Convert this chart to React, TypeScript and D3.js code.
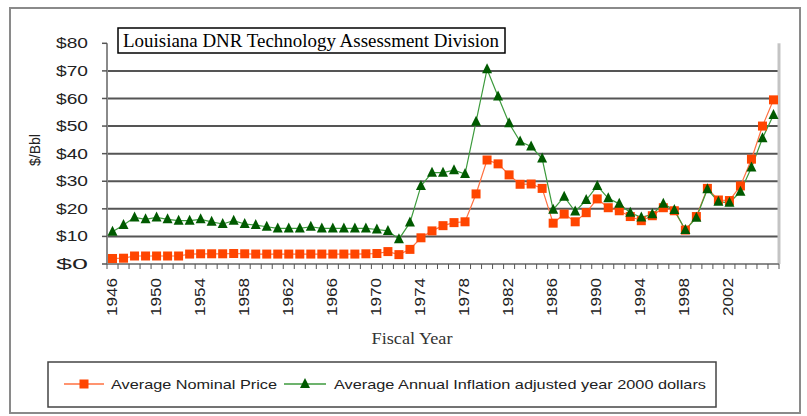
import React from "react";
import * as d3 from "d3";

// fiscal years on the category axis
const years: number[] = d3.range(1946, 2007);
const labelYears = [1946, 1950, 1954, 1958, 1962, 1966, 1970, 1974, 1978, 1982, 1986, 1990, 1994, 1998, 2002];
const yTicks = [0, 10, 20, 30, 40, 50, 60, 70, 80];

// $/Bbl
const nominal = [
  2.0, 2.1, 2.9, 2.9, 2.9, 2.9, 2.9, 3.6, 3.7, 3.7,
  3.7, 3.8, 3.7, 3.6, 3.6, 3.6, 3.6, 3.6, 3.6, 3.6,
  3.6, 3.6, 3.6, 3.7, 3.8, 4.5, 3.4, 5.3, 9.5, 12.0,
  13.9, 15.0, 15.3, 25.4, 37.7, 36.3, 32.3, 28.9, 29.0, 27.4,
  14.8, 18.1, 15.3, 18.6, 23.6, 20.4, 19.3, 17.2, 15.7, 17.5,
  20.4, 19.3, 12.3, 17.2, 27.4, 23.2, 23.0, 28.3, 38.0, 50.0,
  59.5,
];
const adjusted = [
  11.7, 14.1, 16.9, 16.2, 16.9, 16.2, 15.7, 15.7, 16.2, 15.3,
  14.5, 15.7, 14.5, 14.1, 13.5, 12.9, 12.9, 12.9, 13.5, 12.9,
  12.9, 12.9, 12.9, 12.9, 12.5, 12.0, 9.0, 15.0, 28.3, 33.1,
  33.1, 34.0, 32.6, 51.6, 70.6, 60.7, 51.0, 44.4, 42.6, 38.2,
  19.7, 24.4, 19.0, 23.2, 28.3, 23.8, 21.8, 18.6, 16.9, 18.0,
  21.8, 19.6, 12.3, 16.8, 27.1, 22.6, 22.2, 26.2, 35.0, 45.6,
  54.0,
];

const RED = "#ff4500";
const RED_LINE = "#ff7040";
const GREEN = "#005a00";
const GREEN_LINE = "#3c9a3c";

const tri = (cx: number, cy: number, s: number) =>
  `M${cx},${cy - s * 0.6}L${cx + s / 2},${cy + s * 0.4}L${cx - s / 2},${cy + s * 0.4}Z`;

export default function App() {
  const left = 107, right = 779, top = 43.3, bottom = 264;
  const x = d3.scaleBand<number>().domain(years).range([left, right]).padding(0);
  const y = d3.scaleLinear().domain([0, 80]).range([bottom, top]);
  const cx = (yr: number) => (x(yr) as number) + x.bandwidth() / 2;

  const line = d3.line<number>().x((d, i) => cx(years[i])).y(d => y(d));

  const tickXs = years.map(yr => x(yr) as number).concat([right]);

  return (
    <svg width={807} height={416} style={{ position: "absolute", left: 0, top: 0 }}>
      <rect x={0} y={0} width={807} height={416} fill="#fff" />
      <rect x={10} y={8} width={790} height={405} fill="none" stroke="#8a8a8a" strokeWidth={2} />

      {/* grid */}
      {yTicks.filter(t => t > 0 && t < 80).map(t => (
        <line key={t} x1={left} x2={right} y1={y(t)} y2={y(t)} stroke="#555" strokeWidth={2} />
      ))}
      <line x1={right} x2={right} y1={top} y2={bottom} stroke="#c4c4c4" strokeWidth={3} />

      {/* y axis */}
      <line x1={left} x2={left} y1={top} y2={bottom} stroke="#8a8a8a" strokeWidth={2} />
      {yTicks.map(t => (
        <g key={t}>
          <line x1={left - 5} x2={left} y1={y(t)} y2={y(t)} stroke="#555" strokeWidth={1.5} />
          <text x={88} y={y(t)} dy="0.36em" textAnchor="end" fontFamily="Liberation Sans, Arial, sans-serif"
            fontSize={14} fill="#222" textLength={32} lengthAdjust="spacingAndGlyphs">${t}</text>
        </g>
      ))}
      <text transform="translate(40,150) rotate(-90)" textAnchor="middle" fontFamily="Liberation Sans, Arial, sans-serif"
        fontSize={14} fill="#222">$/Bbl</text>

      {/* x axis */}
      <line x1={left} x2={right} y1={bottom} y2={bottom} stroke="#8a8a8a" strokeWidth={2} />
      {tickXs.map((tx, i) => (
        <line key={i} x1={tx} x2={tx} y1={bottom} y2={bottom + 5} stroke="#555" strokeWidth={1} />
      ))}
      {labelYears.map(yr => (
        <text key={yr} transform={`translate(${cx(yr) + 4},278) rotate(-90)`} textAnchor="end"
          fontFamily="Liberation Sans, Arial, sans-serif" fontSize={14} fill="#222"
          textLength={38} lengthAdjust="spacingAndGlyphs">{yr}</text>
      ))}
      <text x={412} y={344} textAnchor="middle" fontFamily="Liberation Serif, Times New Roman, serif"
        fontSize={16} fill="#333" textLength={81} lengthAdjust="spacingAndGlyphs">Fiscal Year</text>

      {/* series */}
      <path d={line(nominal) || ""} fill="none" stroke={RED_LINE} strokeWidth={1.2} />
      <path d={line(adjusted) || ""} fill="none" stroke={GREEN_LINE} strokeWidth={1.2} />
      {nominal.map((v, i) => (
        <rect key={"n" + i} x={cx(years[i]) - 4.5} y={y(v) - 4.5} width={9} height={9} fill={RED} />
      ))}
      {adjusted.map((v, i) => (
        <path key={"a" + i} d={tri(cx(years[i]), y(v), 10)} fill={GREEN} />
      ))}

      {/* title box */}
      <rect x={118} y={28} width={387} height={25} fill="#fff" stroke="#000" strokeWidth={1.5} />
      <text x={123} y={47} fontFamily="Liberation Serif, Times New Roman, serif" fontSize={18} fill="#000"
        textLength={376} lengthAdjust="spacingAndGlyphs">Louisiana DNR Technology Assessment Division</text>

      {/* legend */}
      <rect x={48} y={362} width={668} height={45} fill="#fff" stroke="#444" strokeWidth={1.5} />
      <line x1={64} x2={104} y1={384} y2={384} stroke={RED_LINE} strokeWidth={1.5} />
      <rect x={79.5} y={379.5} width={9} height={9} fill={RED} />
      <text x={111} y={384} dy="0.36em" fontFamily="Liberation Sans, Arial, sans-serif" fontSize={13} fill="#222"
        textLength={166} lengthAdjust="spacingAndGlyphs">Average Nominal Price</text>
      <line x1={284} x2={326} y1={384} y2={384} stroke={GREEN_LINE} strokeWidth={1.5} />
      <path d={tri(305, 384, 10)} fill={GREEN} />
      <text x={334} y={384} dy="0.36em" fontFamily="Liberation Sans, Arial, sans-serif" fontSize={13} fill="#222"
        textLength={372} lengthAdjust="spacingAndGlyphs">Average Annual Inflation adjusted year 2000 dollars</text>
    </svg>
  );
}
